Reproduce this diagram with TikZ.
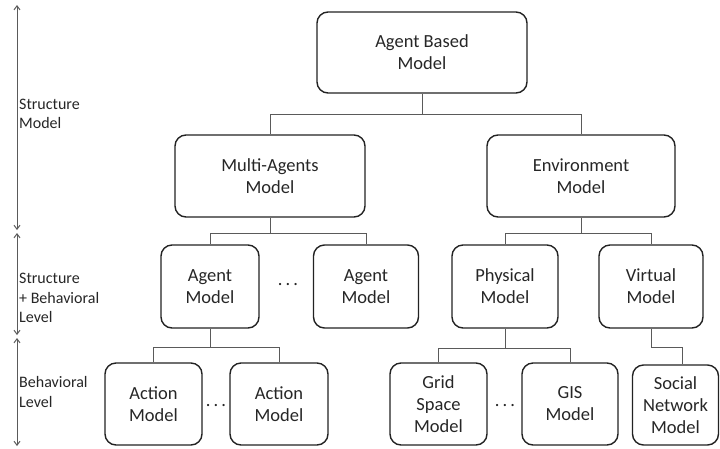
\documentclass[tikz,border=0pt]{standalone}
\usepackage{fontspec}
\setmainfont{Carlito}
\usetikzlibrary{arrows.meta}
\definecolor{boxline}{HTML}{222222}
\definecolor{conn}{HTML}{5A5A5A}
\definecolor{txt}{HTML}{262626}
\tikzset{
  mbox/.style={draw=boxline, line width=1.4pt, rounded corners=11pt, align=center,
    inner sep=0pt, text=txt, font=\fontsize{18.5}{22}\selectfont},
  link/.style={draw=conn, line width=1pt},
  lvl/.style={draw=conn, line width=1pt, {Straight Barb[length=4pt,width=6pt]}-{Straight Barb[length=4pt,width=6pt]}},
  lbl/.style={anchor=west, align=left, inner sep=0pt, text=txt, font=\fontsize{16}{19.5}\selectfont},
  dots/.style={text=txt, font=\fontsize{18.5}{22}\selectfont, inner sep=0pt}
}
\begin{document}
\begin{tikzpicture}[x=1pt,y=-1pt]
\useasboundingbox (0,0) rectangle (720,448);
% boxes
\node[mbox, minimum width=210pt, minimum height=81pt] (abm) at (422,52.5) {Agent Based\\Model};
\node[mbox, minimum width=190pt, minimum height=82pt] (ma) at (270,176) {Multi-Agents\\Model};
\node[mbox, minimum width=188pt, minimum height=82pt] (env) at (581,176) {Environment\\Model};
\node[mbox, minimum width=98pt, minimum height=83pt] (ag1) at (210,286.5) {Agent\\Model};
\node[mbox, minimum width=105pt, minimum height=83pt] (ag2) at (366,286.5) {Agent\\Model};
\node[mbox, minimum width=106pt, minimum height=83pt] (phys) at (505,286.5) {Physical\\Model};
\node[mbox, minimum width=104pt, minimum height=83pt] (virt) at (651,286.5) {Virtual\\Model};
\node[mbox, minimum width=97pt, minimum height=82pt] (act1) at (153.5,404) {Action\\Model};
\node[mbox, minimum width=98pt, minimum height=82pt] (act2) at (279,404) {Action\\Model};
\node[mbox, minimum width=97pt, minimum height=82pt] (grid) at (438.5,404) {Grid\\Space\\Model};
\node[mbox, minimum width=96pt, minimum height=82pt] (gis) at (570,404) {GIS\\Model};
\node[mbox, minimum width=86pt, minimum height=80pt] (soc) at (675.5,405) {Social\\Network\\Model};
% dots
\node[dots] (d1) at (288,285) {.\,.\,.};
\node[dots] (d2) at (216,406) {.\,.\,.};
\node[dots] (d3) at (505,406) {.\,.\,.};
% connectors
\draw[link] (abm.south) -- (422,114) -| (ma.north);
\draw[link] (422,114) -| (env.north);
\draw[link] (ma.south) -- (270,233) -| (ag1.north);
\draw[link] (270,233) -| (ag2.north);
\draw[link] (env.south) -- (581,233) -| (phys.north);
\draw[link] (581,233) -| (virt.north);
\draw[link] (ag1.south) -- (210,347) -| (act1.north);
\draw[link] (210,347) -| (act2.north);
\draw[link] (phys.south) -- (505,348) -| (grid.north);
\draw[link] (505,348) -| (gis.north);
\coordinate (vk) at (682,347);
\draw[link] (virt.south) |- (vk) -- (vk |- soc.north);
% level arrows
\coordinate (a0) at (17,5);
\coordinate (a1) at (17,230);
\coordinate (a2) at (17,233);
\coordinate (a3) at (17,335);
\coordinate (a4) at (17,338);
\coordinate (a5) at (17,446);
\draw[lvl] (a0) -- (a1);
\draw[lvl] (a2) -- (a3);
\draw[lvl] (a4) -- (a5);
\node[lbl] (l1) at (19,114) {Structure\\Model};
\node[lbl] (l2) at (19,298) {Structure\\+ Behavioral\\Level};
\node[lbl] (l3) at (19,392) {Behavioral\\Level};
\end{tikzpicture}
\end{document}
